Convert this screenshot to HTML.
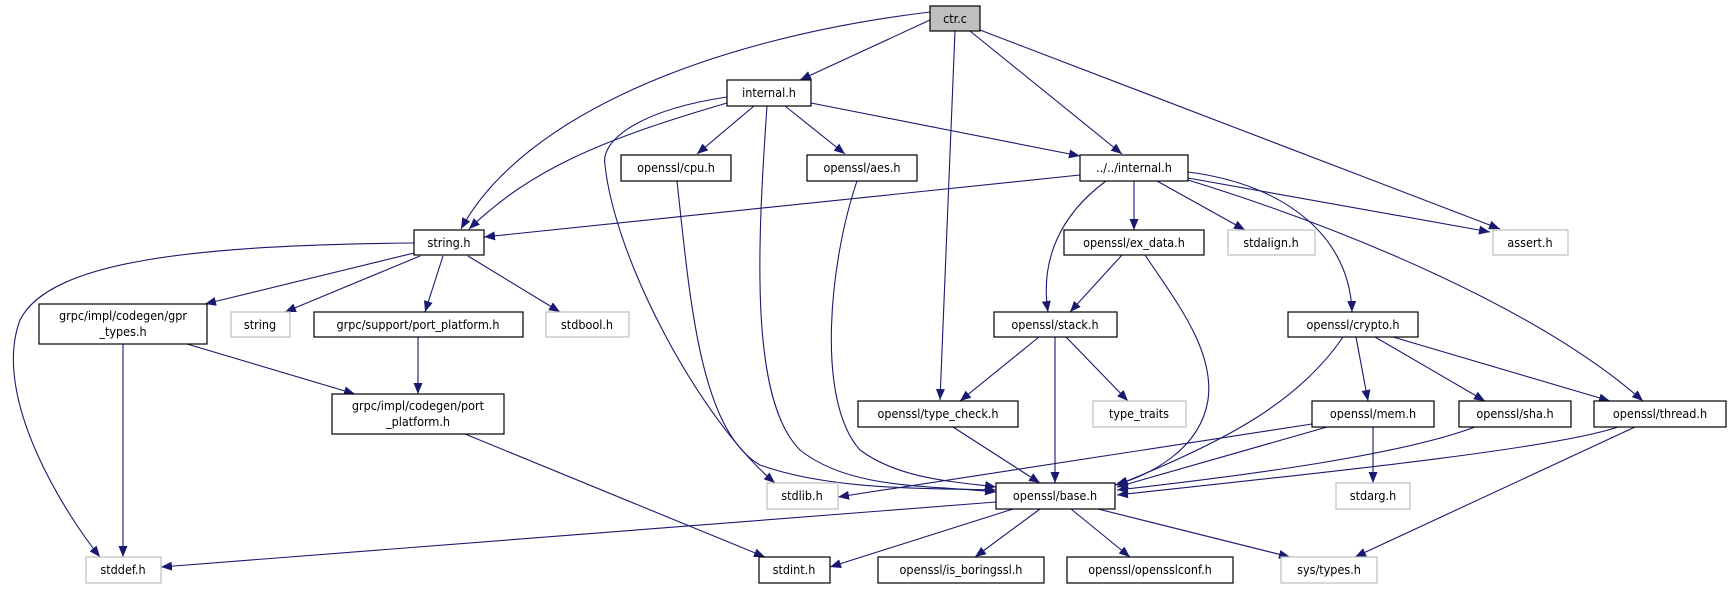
<!DOCTYPE html>
<html><head><meta charset="utf-8"><style>
html,body{margin:0;padding:0;background:#fff}
svg{display:block}
text{font-family:"DejaVu Sans Condensed","DejaVu Sans","Liberation Sans",sans-serif;font-size:12.5px;fill:#000;text-anchor:middle}
.e{fill:none;stroke:#191970;stroke-width:1.1}
.n{fill:#fff;stroke:#000;stroke-width:1.2}
.g{fill:#fff;stroke:#bfbfbf;stroke-width:1.2}
</style></head><body>
<svg width="1730" height="589" viewBox="0 0 1730 589" xmlns="http://www.w3.org/2000/svg">
<defs><marker id="a" markerUnits="userSpaceOnUse" markerWidth="12" markerHeight="10" refX="11" refY="5" orient="auto"><path d="M0,0.5 L11,5 L0,9.5 Z" fill="#191970"/></marker></defs>
<g class="edges">
<path class="e" marker-end="url(#a)" d="M930,12 C700,40 520,120 461,229"/>
<path class="e" marker-end="url(#a)" d="M930,20 L800,80"/>
<path class="e" marker-end="url(#a)" d="M955,31 L940,400"/>
<path class="e" marker-end="url(#a)" d="M970,31 L1122,154"/>
<path class="e" marker-end="url(#a)" d="M980,30 L1500,229"/>
<path class="e" marker-end="url(#a)" d="M727,103 C600,140 530,170 469,229"/>
<path class="e" marker-end="url(#a)" d="M727,97 C640,110 600,140 605,165 C615,260 700,420 775,483"/>
<path class="e" marker-end="url(#a)" d="M767,106 C757,250 750,400 800,450 C850,490 930,485 996,492"/>
<path class="e" marker-end="url(#a)" d="M754,106 L697,154"/>
<path class="e" marker-end="url(#a)" d="M785,106 L845,154"/>
<path class="e" marker-end="url(#a)" d="M811,103 L1080,156"/>
<path class="e" marker-end="url(#a)" d="M677,181 C690,300 700,430 760,465 C830,490 920,488 996,490"/>
<path class="e" marker-end="url(#a)" d="M857,181 C830,260 815,400 860,450 C900,480 960,482 996,487"/>
<path class="e" marker-end="url(#a)" d="M414,243 C200,245 50,260 20,320 C-10,400 70,520 100,557"/>
<path class="e" marker-end="url(#a)" d="M414,253 L205,304"/>
<path class="e" marker-end="url(#a)" d="M420,256 L285,312"/>
<path class="e" marker-end="url(#a)" d="M443,256 L425,312"/>
<path class="e" marker-end="url(#a)" d="M468,256 L560,312"/>
<path class="e" marker-end="url(#a)" d="M123,344 L123,557"/>
<path class="e" marker-end="url(#a)" d="M187,344 L355,394"/>
<path class="e" marker-end="url(#a)" d="M418,337 L418,394"/>
<path class="e" marker-end="url(#a)" d="M465,434 L765,557"/>
<path class="e" marker-end="url(#a)" d="M1080,175 L484,237"/>
<path class="e" marker-end="url(#a)" d="M1106,181 C1060,215 1040,260 1048,312"/>
<path class="e" marker-end="url(#a)" d="M1134,181 L1134,230"/>
<path class="e" marker-end="url(#a)" d="M1157,181 L1245,230"/>
<path class="e" marker-end="url(#a)" d="M1188,178 L1490,232"/>
<path class="e" marker-end="url(#a)" d="M1188,172 C1290,185 1350,240 1352,312"/>
<path class="e" marker-end="url(#a)" d="M1188,180 C1350,230 1540,310 1643,401"/>
<path class="e" marker-end="url(#a)" d="M1122,255 L1070,312"/>
<path class="e" marker-end="url(#a)" d="M1145,255 C1175,300 1215,350 1208,400 C1200,450 1150,475 1115,485"/>
<path class="e" marker-end="url(#a)" d="M1039,337 L960,401"/>
<path class="e" marker-end="url(#a)" d="M1055,337 L1055,483"/>
<path class="e" marker-end="url(#a)" d="M1066,337 L1128,401"/>
<path class="e" marker-end="url(#a)" d="M953,427 L1040,483"/>
<path class="e" marker-end="url(#a)" d="M1343,337 C1300,400 1230,440 1117,485"/>
<path class="e" marker-end="url(#a)" d="M1356,337 L1368,401"/>
<path class="e" marker-end="url(#a)" d="M1375,337 L1485,401"/>
<path class="e" marker-end="url(#a)" d="M1393,337 L1610,401"/>
<path class="e" marker-end="url(#a)" d="M1312,424 L838,497"/>
<path class="e" marker-end="url(#a)" d="M1327,427 L1117,487"/>
<path class="e" marker-end="url(#a)" d="M1373,427 L1373,483"/>
<path class="e" marker-end="url(#a)" d="M1475,427 C1400,455 1250,475 1117,490"/>
<path class="e" marker-end="url(#a)" d="M1618,427 C1550,450 1300,475 1117,495"/>
<path class="e" marker-end="url(#a)" d="M1635,427 L1355,557"/>
<path class="e" marker-end="url(#a)" d="M996,502 L161,567"/>
<path class="e" marker-end="url(#a)" d="M1013,509 L830,567"/>
<path class="e" marker-end="url(#a)" d="M1040,509 L975,557"/>
<path class="e" marker-end="url(#a)" d="M1071,509 L1130,557"/>
<path class="e" marker-end="url(#a)" d="M1098,509 L1290,557"/>
</g>
<g class="nodes">
<rect x="930" y="6" width="50" height="25" fill="#bfbfbf" stroke="#000" stroke-width="1.2"/><text x="955" y="23">ctr.c</text>
<rect class="n" x="727" y="80" width="84" height="26"/><text x="769" y="97">internal.h</text>
<rect class="n" x="621" y="155" width="110" height="26"/><text x="676" y="172">openssl/cpu.h</text>
<rect class="n" x="807" y="155" width="110" height="26"/><text x="862" y="172">openssl/aes.h</text>
<rect class="n" x="1080" y="155" width="108" height="26"/><text x="1134" y="172">../../internal.h</text>
<rect class="n" x="414" y="230" width="70" height="25"/><text x="449" y="247">string.h</text>
<rect class="n" x="1064" y="230" width="140" height="25"/><text x="1134" y="247">openssl/ex_data.h</text>
<rect class="g" x="1228" y="230" width="87" height="25"/><text x="1271" y="247">stdalign.h</text>
<rect class="g" x="1493" y="230" width="75" height="25"/><text x="1530" y="247">assert.h</text>
<rect class="n" x="39" y="304" width="168" height="40"/><text x="123" y="320">grpc/impl/codegen/gpr</text><text x="123" y="336">_types.h</text>
<rect class="g" x="231" y="312" width="59" height="25"/><text x="260" y="329">string</text>
<rect class="n" x="314" y="312" width="209" height="25"/><text x="418" y="329">grpc/support/port_platform.h</text>
<rect class="g" x="546" y="312" width="83" height="25"/><text x="587" y="329">stdbool.h</text>
<rect class="n" x="994" y="312" width="123" height="25"/><text x="1055" y="329">openssl/stack.h</text>
<rect class="n" x="1288" y="312" width="130" height="25"/><text x="1353" y="329">openssl/crypto.h</text>
<rect class="n" x="332" y="394" width="172" height="40"/><text x="418" y="410">grpc/impl/codegen/port</text><text x="418" y="426">_platform.h</text>
<rect class="n" x="858" y="401" width="160" height="26"/><text x="938" y="418">openssl/type_check.h</text>
<rect class="g" x="1093" y="401" width="93" height="26"/><text x="1139" y="418">type_traits</text>
<rect class="n" x="1312" y="401" width="122" height="26"/><text x="1373" y="418">openssl/mem.h</text>
<rect class="n" x="1459" y="401" width="112" height="26"/><text x="1515" y="418">openssl/sha.h</text>
<rect class="n" x="1594" y="401" width="132" height="26"/><text x="1660" y="418">openssl/thread.h</text>
<rect class="g" x="767" y="483" width="71" height="26"/><text x="802" y="500">stdlib.h</text>
<rect class="n" x="996" y="483" width="119" height="26"/><text x="1055" y="500">openssl/base.h</text>
<rect class="g" x="1336" y="483" width="74" height="26"/><text x="1373" y="500">stdarg.h</text>
<rect class="g" x="86" y="557" width="75" height="26"/><text x="123" y="574">stddef.h</text>
<rect class="n" x="759" y="557" width="71" height="26"/><text x="794" y="574">stdint.h</text>
<rect class="n" x="878" y="557" width="166" height="26"/><text x="961" y="574">openssl/is_boringssl.h</text>
<rect class="n" x="1067" y="557" width="166" height="26"/><text x="1150" y="574">openssl/opensslconf.h</text>
<rect class="g" x="1281" y="557" width="96" height="26"/><text x="1329" y="574">sys/types.h</text>
</g>
</svg>
</body></html>
